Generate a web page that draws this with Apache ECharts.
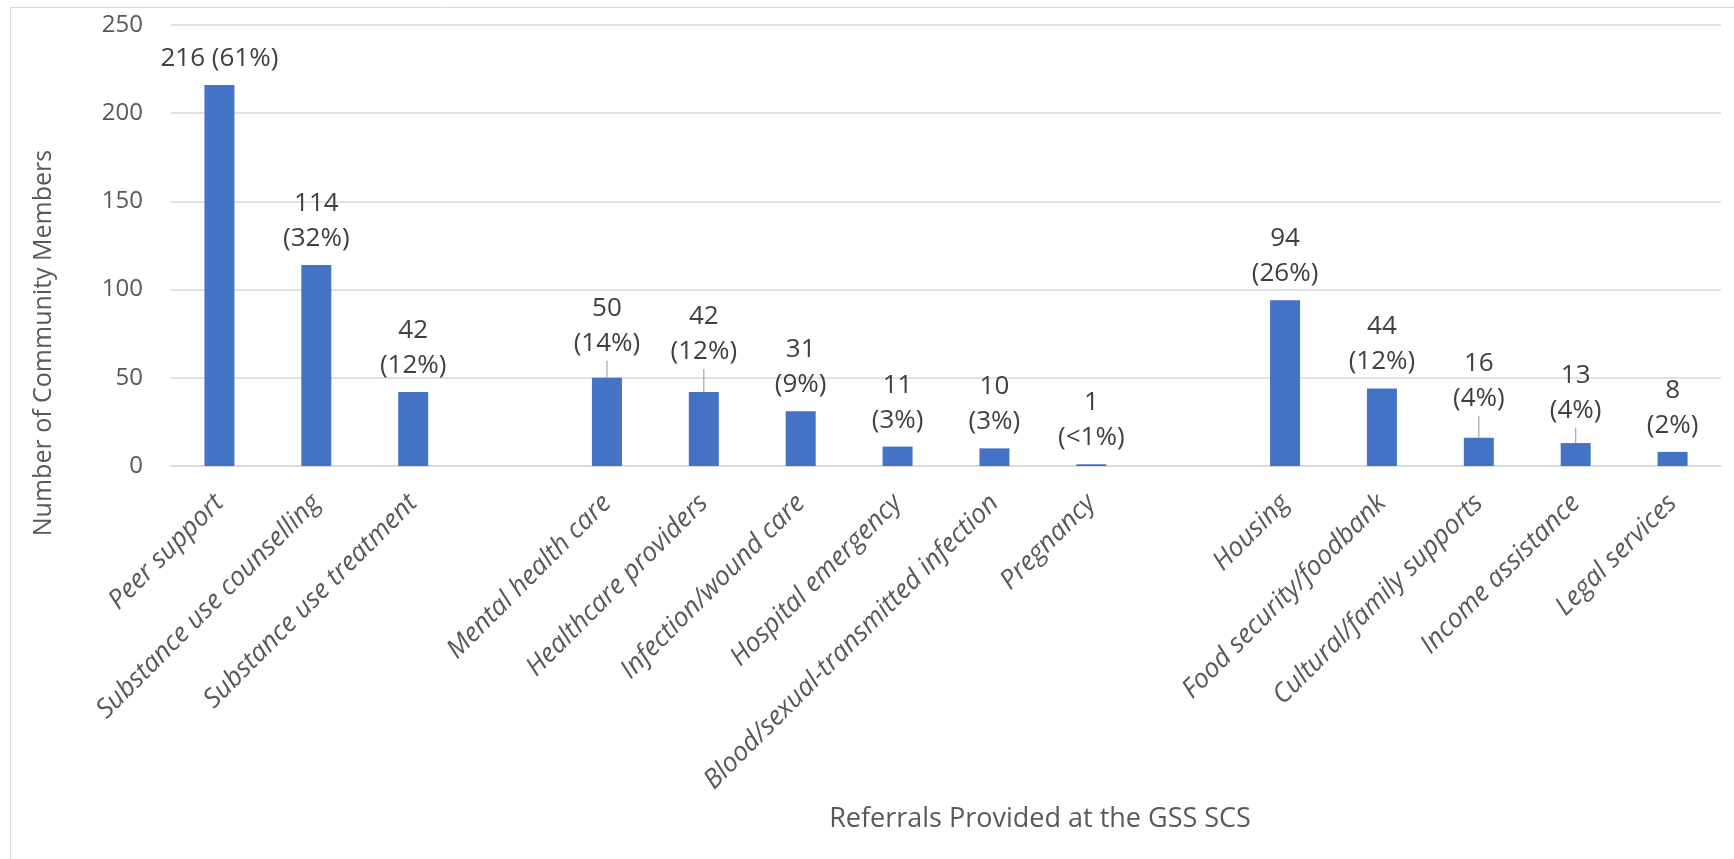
<!DOCTYPE html>
<html>
<head>
<meta charset="utf-8">
<script src="https://cdn.jsdelivr.net/npm/echarts@6/dist/echarts.min.js"></script>
<style>
  html, body { margin: 0; padding: 0; background: #fff; }
  #chart { width: 1734px; height: 859px; }
</style>
</head>
<body>
<div id="chart"></div>
<script>
const categories = [
  'Peer support', 'Substance use counselling', 'Substance use treatment', '',
  'Mental health care', 'Healthcare providers', 'Infection/wound care', 'Hospital emergency',
  'Blood/sexual-transmitted infection', 'Pregnancy', '',
  'Housing', 'Food security/foodbank', 'Cultural/family supports', 'Income assistance', 'Legal services'
];
const counts = [216, 114, 42, null, 50, 42, 31, 11, 10, 1, null, 94, 44, 16, 13, 8];
const percents = ['61%', '32%', '12%', null, '14%', '12%', '9%', '3%', '3%', '<1%', null, '26%', '12%', '4%', '4%', '2%'];
// labels that Excel nudged up and tied back with a leader line
const leaderShift = { 4: 8, 5: 14, 13: 13, 14: 6 };
const yTicks = [0, 50, 100, 150, 200, 250];

const chart = echarts.init(document.getElementById('chart'));
const font = '"Open Sans", sans-serif';

const barData = counts.map((v, i) => {
  if (v === null) return '-';
  if (leaderShift[i]) return { value: v, labelLine: { show: true } };
  return v;
});

const option = {
  animation: false,
  grid: { left: 171, right: 13, top: 25, bottom: 393 },
  graphic: [
    {
      type: 'rect', silent: true,
      shape: { x: 10.5, y: 7.5, width: 1800, height: 900 },
      style: { fill: 'none', stroke: '#d9d9d9', lineWidth: 1 }
    },
    {
      type: 'text', x: 44, y: 343, rotation: Math.PI / 2,
      style: {
        text: 'Number of Community Members', font: '25px ' + font,
        fill: '#595959', align: 'center', verticalAlign: 'middle'
      }
    },
    {
      type: 'text', x: 1040, y: 819,
      style: {
        text: 'Referrals Provided at the GSS SCS', font: '27px ' + font,
        fill: '#595959', align: 'center', verticalAlign: 'middle'
      }
    }
  ],
  xAxis: {
    type: 'category',
    data: categories,
    axisTick: { show: false },
    axisLine: { lineStyle: { color: '#d9d9d9', width: 1.5 } },
    axisLabel: {
      interval: 0, rotate: 45, margin: 33,
      fontFamily: font, fontSize: 26.5, fontStyle: 'italic', color: '#595959'
    }
  },
  yAxis: {
    type: 'value',
    min: yTicks[0], max: yTicks[yTicks.length - 1], interval: 50,
    axisLine: { show: false },
    axisTick: { show: false },
    splitLine: { lineStyle: { color: '#d9d9d9', width: 1.5 } },
    axisLabel: { margin: 28, fontFamily: font, fontSize: 24, color: '#595959' }
  },
  series: [{
    type: 'bar',
    data: barData,
    barWidth: 30,
    itemStyle: { color: '#4472c4' },
    label: {
      show: true, position: 'top', distance: 9,
      fontFamily: font, fontSize: 26, color: '#404040', lineHeight: 35,
      formatter: p => {
        const pct = percents[p.dataIndex];
        if (pct === null) return '';
        return p.dataIndex === 0 ? p.value + ' (' + pct + ')' : p.value + '\n(' + pct + ')';
      }
    },
    labelLine: { show: false, lineStyle: { color: '#a6a6a6', width: 1.2 } },
    labelLayout: p => leaderShift[p.dataIndex] ? { dy: -leaderShift[p.dataIndex] } : {}
  }]
};

chart.setOption(option);
window.addEventListener('resize', () => chart.resize());
</script>
</body>
</html>
